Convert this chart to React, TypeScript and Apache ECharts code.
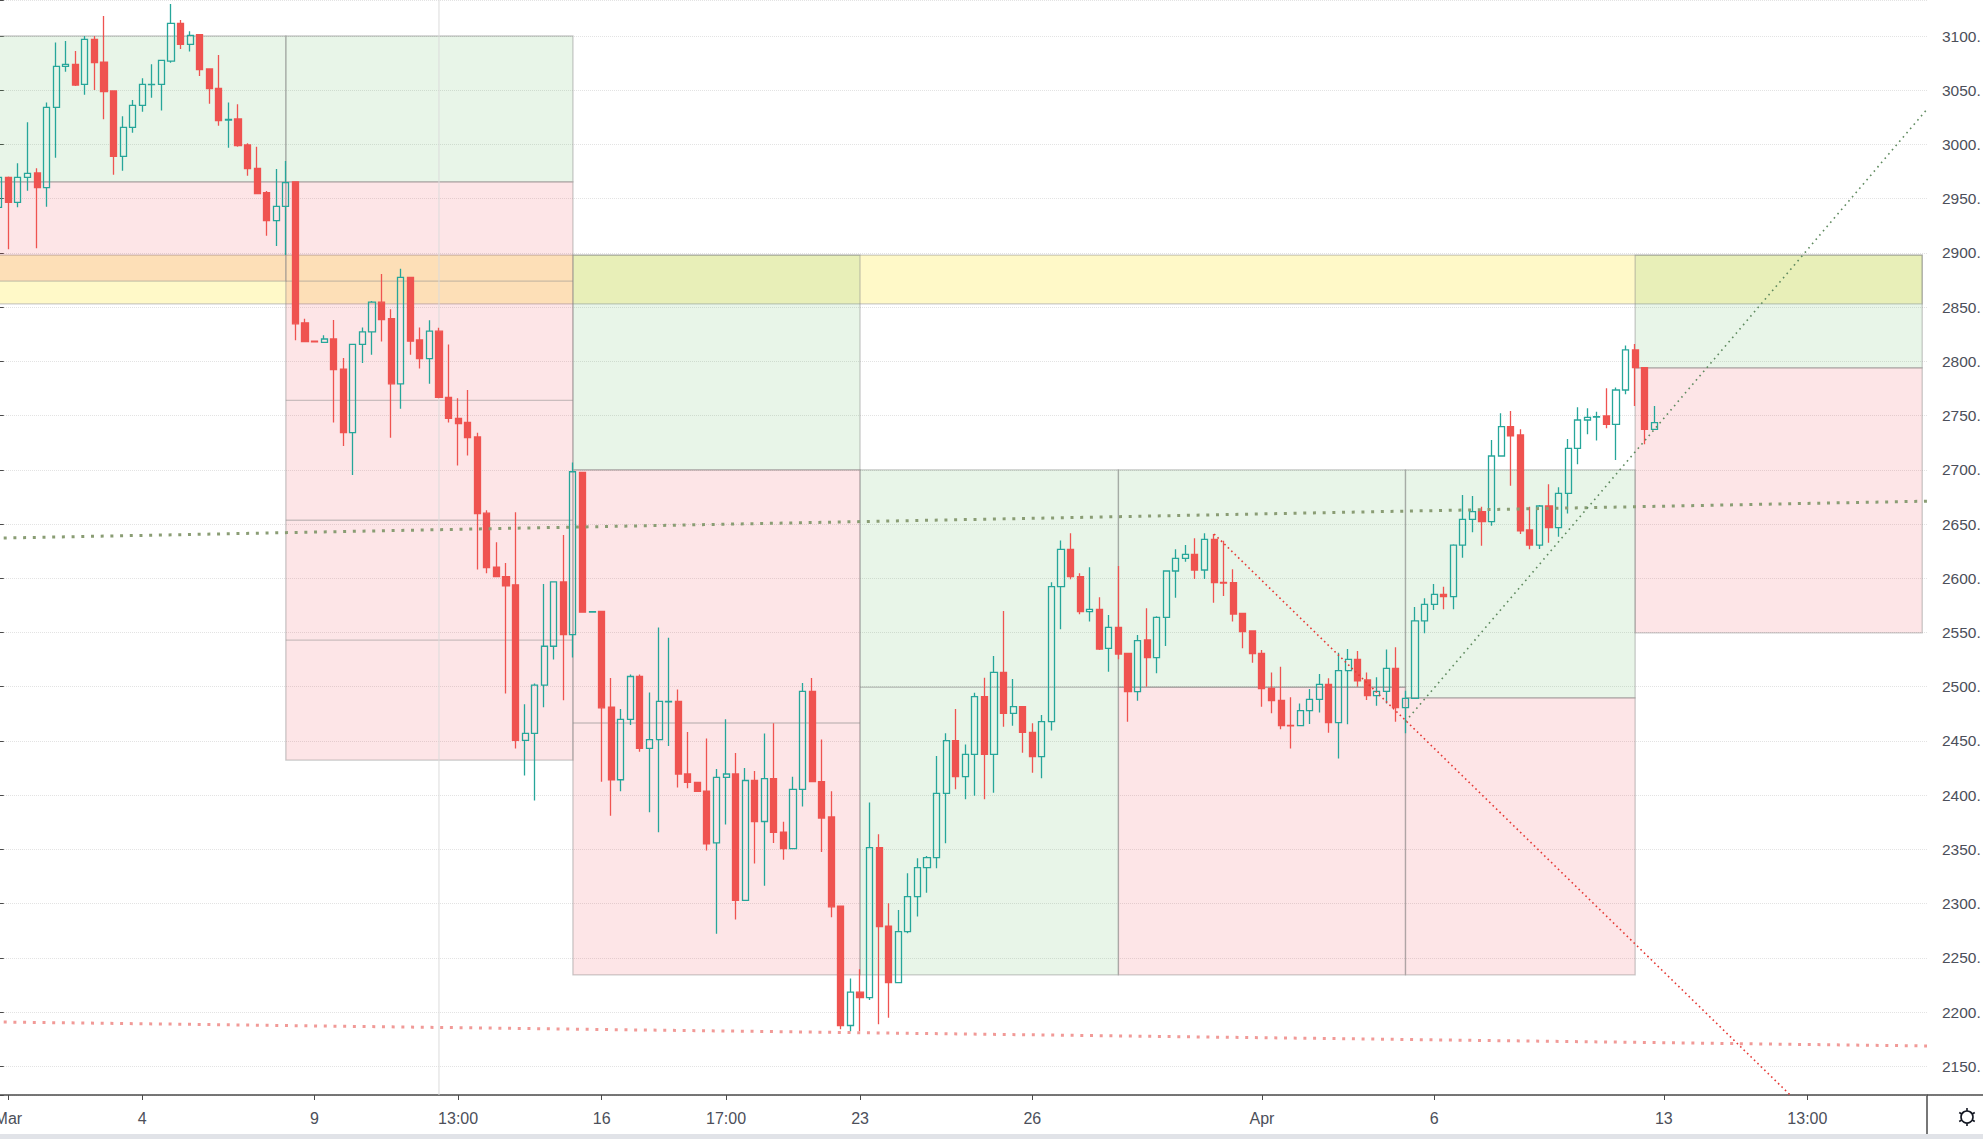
import React, { useEffect, useRef } from "react";
import * as echarts from "echarts";

// [open, close, low, high] per bar
const candles: number[][] = [
  [2942.0, 2969.7, 2935.0, 2972.0], [2969.7, 2946.6, 2903.3, 2970.5], [2946.6, 2969.7, 2942.0, 2982.6], [2969.7, 2973.4, 2957.4, 3020.4],
  [2973.7, 2960.2, 2904.2, 2978.0], [2960.2, 3034.2, 2942.6, 3038.8], [3034.2, 3072.0, 2987.8, 3093.9], [3072.0, 3073.9, 3067.1, 3095.4],
  [3073.9, 3054.8, 3053.9, 3086.2], [3055.4, 3096.9, 3045.9, 3100.0], [3096.9, 3075.4, 3050.2, 3100.0], [3076.0, 3048.7, 3023.2, 3118.4],
  [3049.3, 2989.0, 2972.1, 3049.3], [2989.0, 3015.8, 2975.8, 3025.9], [3015.8, 3036.1, 3010.9, 3041.0], [3036.1, 3055.4, 3030.2, 3061.0],
  [3055.1, 3055.4, 3043.1, 3073.9], [3055.4, 3077.6, 3031.2, 3077.6], [3076.9, 3111.7, 3075.4, 3129.5], [3111.7, 3092.3, 3088.0, 3114.8],
  [3092.3, 3100.6, 3085.6, 3104.3], [3101.2, 3069.0, 3063.1, 3101.8], [3069.6, 3051.4, 3037.6, 3070.2], [3051.8, 3021.9, 3017.3, 3082.5],
  [3022.5, 3023.2, 2997.0, 3038.8], [3023.5, 2998.9, 2997.9, 3037.0], [2999.5, 2977.7, 2971.2, 3001.0], [2978.0, 2954.6, 2954.3, 2997.9],
  [2955.5, 2929.7, 2915.9, 2957.1], [2929.7, 2942.9, 2906.4, 2977.4], [2942.9, 2964.8, 2898.1, 2984.7], [2965.5, 2834.6, 2819.4, 2966.0],
  [2835.5, 2818.3, 2817.5, 2839.3], [2818.6, 2817.9, 2817.5, 2818.8], [2817.5, 2820.6, 2817.5, 2824.0], [2820.6, 2792.3, 2743.7, 2838.1],
  [2792.7, 2734.2, 2721.9, 2803.0], [2734.2, 2815.6, 2695.2, 2815.6], [2815.6, 2827.1, 2798.4, 2831.3], [2827.1, 2854.6, 2806.0, 2855.7],
  [2854.6, 2838.5, 2818.3, 2880.6], [2839.3, 2779.3, 2729.6, 2848.1], [2779.3, 2877.5, 2756.3, 2885.5], [2877.5, 2818.6, 2806.0, 2877.5],
  [2819.8, 2802.6, 2793.4, 2831.3], [2802.6, 2827.8, 2779.3, 2837.8], [2827.8, 2766.7, 2765.9, 2830.9], [2766.7, 2747.5, 2743.7, 2815.6],
  [2747.5, 2742.6, 2704.0, 2765.9], [2743.7, 2729.6, 2713.1, 2773.6], [2730.3, 2659.6, 2608.0, 2734.2], [2660.0, 2609.9, 2604.6, 2662.7],
  [2610.3, 2601.5, 2601.5, 2633.3], [2601.5, 2593.1, 2493.7, 2614.1], [2593.9, 2450.5, 2442.9, 2660.8], [2450.5, 2457.0, 2418.0, 2483.8],
  [2457.0, 2501.4, 2395.1, 2502.9], [2501.4, 2537.3, 2481.1, 2594.6], [2537.3, 2596.6, 2525.1, 2596.6], [2596.6, 2548.0, 2487.6, 2639.8],
  [2548.0, 2698.2, 2527.0, 2706.7], [2697.5, 2568.7, 2568.7, 2697.5], [2568.7, 2569.1, 2568.3, 2569.5], [2569.4, 2480.5, 2412.4, 2569.4],
  [2481.2, 2414.2, 2381.0, 2508.0], [2414.2, 2469.9, 2403.6, 2479.4], [2469.9, 2509.4, 2464.6, 2511.2], [2509.4, 2443.1, 2439.9, 2511.2],
  [2443.1, 2451.2, 2384.2, 2494.6], [2451.2, 2486.5, 2365.8, 2554.6], [2486.1, 2486.5, 2445.2, 2545.1], [2486.5, 2419.5, 2407.1, 2497.4],
  [2419.5, 2411.7, 2406.4, 2458.3], [2411.7, 2403.6, 2403.6, 2411.7], [2403.6, 2355.2, 2348.9, 2452.3], [2355.9, 2416.3, 2272.3, 2424.0],
  [2416.3, 2419.5, 2372.9, 2469.9], [2419.5, 2303.0, 2285.4, 2438.9], [2303.0, 2413.5, 2303.0, 2425.1], [2413.5, 2375.7, 2336.9, 2422.3],
  [2375.7, 2415.2, 2316.4, 2456.9], [2415.2, 2365.8, 2355.9, 2466.4], [2365.8, 2350.7, 2340.4, 2375.4], [2350.7, 2405.3, 2350.7, 2417.0],
  [2405.3, 2495.7, 2389.5, 2503.4], [2495.7, 2412.4, 2412.4, 2508.0], [2412.4, 2378.9, 2347.5, 2451.2], [2379.9, 2297.0, 2287.5, 2403.6],
  [2297.7, 2187.6, 2184.1, 2297.7], [2187.6, 2218.3, 2182.3, 2231.0], [2218.3, 2213.4, 2182.3, 2239.5], [2213.3, 2351.6, 2211.1, 2393.1],
  [2351.6, 2278.7, 2188.7, 2363.9], [2279.3, 2227.1, 2194.8, 2300.2], [2227.1, 2274.1, 2227.1, 2294.1], [2274.1, 2306.4, 2272.6, 2327.9],
  [2306.4, 2333.1, 2288.0, 2341.7], [2333.1, 2342.3, 2310.1, 2343.9], [2342.3, 2401.7, 2332.5, 2436.1], [2401.7, 2450.2, 2355.6, 2457.0],
  [2450.2, 2417.0, 2405.4, 2479.4], [2417.0, 2437.6, 2396.1, 2446.8], [2437.6, 2490.8, 2399.5, 2494.5], [2490.8, 2437.6, 2396.1, 2508.3],
  [2437.6, 2513.2, 2402.3, 2528.3], [2513.2, 2475.4, 2463.1, 2569.8], [2475.4, 2481.6, 2464.1, 2507.1], [2481.6, 2457.9, 2439.2, 2481.6],
  [2457.9, 2435.5, 2420.7, 2466.2], [2435.5, 2467.7, 2415.5, 2473.9], [2467.7, 2592.2, 2459.5, 2596.2], [2592.2, 2626.7, 2552.9, 2634.7],
  [2626.7, 2601.5, 2599.0, 2641.4], [2601.5, 2569.2, 2566.7, 2604.5], [2569.2, 2571.3, 2560.0, 2610.1], [2571.3, 2534.7, 2533.8, 2582.4],
  [2535.4, 2554.7, 2513.8, 2566.1], [2554.7, 2530.1, 2525.2, 2611.3], [2530.8, 2495.4, 2467.7, 2530.8], [2495.4, 2542.4, 2487.1, 2547.7],
  [2543.1, 2526.8, 2500.0, 2572.3], [2526.8, 2563.9, 2512.3, 2564.9], [2563.9, 2606.7, 2537.5, 2606.7], [2606.7, 2618.4, 2582.1, 2626.7],
  [2618.4, 2622.0, 2615.3, 2630.6], [2622.0, 2607.6, 2599.3, 2636.8], [2607.6, 2635.9, 2599.3, 2641.4], [2635.9, 2595.9, 2577.5, 2640.8],
  [2596.2, 2595.6, 2583.6, 2634.6], [2595.9, 2567.0, 2560.0, 2608.2], [2567.6, 2550.7, 2535.4, 2567.6], [2551.4, 2530.4, 2522.1, 2551.4],
  [2530.8, 2498.2, 2481.6, 2533.8], [2498.5, 2487.1, 2475.4, 2513.2], [2487.4, 2464.1, 2460.7, 2518.5], [2464.4, 2463.8, 2442.9, 2490.2],
  [2464.1, 2477.9, 2464.1, 2484.6], [2477.9, 2488.3, 2465.6, 2497.9], [2488.3, 2502.2, 2476.1, 2511.7], [2502.2, 2466.8, 2457.6, 2507.7],
  [2466.8, 2514.8, 2433.9, 2531.4], [2514.8, 2525.2, 2465.3, 2534.7], [2525.2, 2505.5, 2500.0, 2532.9], [2506.2, 2491.7, 2487.7, 2513.2],
  [2491.7, 2495.7, 2482.5, 2508.6], [2495.7, 2516.9, 2484.6, 2534.4], [2516.9, 2480.7, 2467.7, 2536.3], [2480.7, 2489.3, 2457.0, 2496.3],
  [2489.3, 2560.6, 2489.3, 2573.5], [2560.6, 2575.9, 2549.2, 2581.5], [2575.9, 2585.2, 2570.7, 2594.7], [2585.2, 2583.0, 2571.3, 2592.2],
  [2583.0, 2630.6, 2571.3, 2631.3], [2630.6, 2654.3, 2619.0, 2676.8], [2654.3, 2661.4, 2642.3, 2675.8], [2661.4, 2652.2, 2630.0, 2666.0],
  [2652.2, 2712.7, 2648.5, 2727.5], [2712.7, 2739.8, 2712.1, 2752.1], [2739.8, 2731.2, 2685.4, 2754.2], [2732.1, 2643.6, 2640.8, 2737.3],
  [2644.5, 2630.6, 2626.7, 2666.0], [2630.6, 2666.6, 2627.0, 2667.5], [2666.6, 2646.6, 2632.8, 2686.6], [2646.6, 2678.3, 2638.3, 2683.8],
  [2678.3, 2719.8, 2659.8, 2728.4], [2719.8, 2745.9, 2705.0, 2757.6], [2745.9, 2748.4, 2732.7, 2756.7], [2748.7, 2749.0, 2726.9, 2753.6],
  [2749.6, 2741.9, 2738.2, 2775.1], [2741.9, 2773.6, 2709.0, 2776.0], [2773.6, 2810.5, 2769.6, 2814.5], [2810.5, 2794.2, 2758.8, 2816.0],
  [2794.2, 2737.3, 2723.5, 2794.2], [2737.3, 2743.5, 2736.7, 2758.8],
];

const barCount = 202;
const tickBars = [1, 15, 33, 48, 63, 76, 90, 108, 132, 150, 174, 189];
const tickTexts = ["Mar", "4", "9", "13:00", "16", "17:00", "23", "26", "Apr", "6", "13", "13:00"];

const priceMin = 2123.5;
const priceMax = 3133.2;

// [fromBar, toBar, top, bottom]
const yellowBands = [[-3, 201, 2898, 2853]];
const greenBoxes = [
  [-3, 30, 3100, 2965.5], [30, 60, 3100, 2965.5], [60, 90, 2898, 2700], [90, 117, 2700, 2234.2],
  [117, 147, 2700, 2499.5], [147, 171, 2700, 2489.7], [171, 201, 2898, 2794],
];
const redBoxes = [
  [-3, 30, 2965.5, 2874], [30, 60, 2965.5, 2432.3], [60, 90, 2700, 2234.2],
  [117, 147, 2499.5, 2234.2], [147, 171, 2489.7, 2234.2], [171, 201, 2794, 2549.7],
];
// [fromBar, toBar, price]
const boxLines = [
  [30, 60, 2874], [30, 60, 2764], [30, 60, 2653.5], [30, 60, 2543], [60, 90, 2466.5], [90, 117, 2499.5],
];
const levelGreen = [[-0.5, 2636.9], [201.5, 2671.1]];
const levelRed = [[-0.5, 2190.9], [201.5, 2168.7]];
const trendDown = [[127, 2640.8], [195, 2056.5]];
const trendUp = [[147, 2467.8], [201.5, 3032.5]];
const crosshair = [[46, priceMin], [46, priceMax]];

const labelFont = "Liberation Sans, Arial, sans-serif";
const axisColor = "#4a4a4a";
const textColor = "#4c4f5a";

const categories = Array.from({ length: barCount }, (_, i) => String(i));
const labelFor = (i: number) => {
  const p = tickBars.indexOf(i);
  return p >= 0 ? tickTexts[p] : "";
};

function rectSeries(data: number[][], fill: string, z: number) {
  return {
    type: "custom",
    xAxisIndex: 1,
    yAxisIndex: 0,
    z,
    silent: true,
    clip: true,
    data,
    renderItem: (_p: any, api: any) => {
      const a = api.coord([api.value(0), api.value(2)]);
      const b = api.coord([api.value(1), api.value(3)]);
      return {
        type: "rect",
        shape: { x: a[0], y: a[1], width: b[0] - a[0], height: b[1] - a[1] },
        style: { fill, stroke: "rgba(140,140,140,0.45)", lineWidth: 1.3 },
      };
    },
  };
}

function lineSeries(data: number[][], color: string, width: number, dash: number[], z: number) {
  return {
    type: "line",
    xAxisIndex: 1,
    yAxisIndex: 0,
    z,
    silent: true,
    clip: true,
    data,
    showSymbol: false,
    symbol: "none",
    lineStyle: { color, width, type: dash },
  };
}

const gearX = 1973;
const gearY = 1117;
const gearRays = [0, 60, 120, 180, 240, 300].map((deg) => {
  const r = (deg * Math.PI) / 180;
  return {
    type: "line",
    shape: { x1: gearX + Math.sin(r) * 6, y1: gearY - Math.cos(r) * 6, x2: gearX + Math.sin(r) * 9, y2: gearY - Math.cos(r) * 9 },
    style: { stroke: "#131722", lineWidth: 1.6 },
  };
});

const option: any = {
  animation: false,
  backgroundColor: "#ffffff",
  grid: { left: 0, right: 56, top: 0, bottom: 44, containLabel: false, outerBoundsMode: "none" },
  xAxis: [
    {
      type: "category",
      data: categories,
      boundaryGap: true,
      axisLine: { show: true, lineStyle: { color: axisColor, width: 1.5 } },
      axisTick: {
        show: true,
        alignWithLabel: true,
        length: 5,
        interval: (i: number) => labelFor(i) !== "",
        lineStyle: { color: axisColor, width: 1 },
      },
      axisLabel: {
        interval: (i: number) => labelFor(i) !== "",
        formatter: (_v: string, i: number) => labelFor(i),
        margin: 15,
        fontSize: 16,
        fontFamily: labelFont,
        color: textColor,
        hideOverlap: false,
      },
      splitLine: { show: false },
    },
    { type: "value", min: -0.5, max: barCount - 0.5, show: false },
  ],
  yAxis: [
    {
      type: "value",
      position: "right",
      min: priceMin,
      max: priceMax,
      splitNumber: 20,
      minInterval: 50,
      maxInterval: 50,
      axisLine: { show: true, lineStyle: { color: axisColor, width: 1.5 } },
      axisTick: { show: true, length: 5, lineStyle: { color: axisColor, width: 1 } },
      axisLabel: {
        margin: 15,
        fontSize: 15.5,
        fontFamily: labelFont,
        color: textColor,
        // the price scale is cut at the picture's right edge, so only "3100." of "3100.00" shows
        formatter: (v: number) => (Math.abs(v % 50) < 0.001 ? `${v.toFixed(0)}.` : ""),
      },
      splitLine: { show: true, lineStyle: { color: "#e3e3e3", type: "dotted", width: 1 } },
    },
  ],
  series: [
    rectSeries(yellowBands, "rgba(255,235,59,0.28)", 1),
    rectSeries(greenBoxes, "rgba(76,175,80,0.13)", 2),
    rectSeries(redBoxes, "rgba(242,54,69,0.13)", 2),
    {
      type: "custom",
      xAxisIndex: 1,
      yAxisIndex: 0,
      z: 3,
      silent: true,
      clip: true,
      data: boxLines,
      renderItem: (_p: any, api: any) => {
        const a = api.coord([api.value(0), api.value(2)]);
        const b = api.coord([api.value(1), api.value(2)]);
        return {
          type: "line",
          shape: { x1: a[0], y1: a[1], x2: b[0], y2: b[1] },
          style: { stroke: "rgba(140,140,140,0.45)", lineWidth: 1.3 },
        };
      },
    },
    lineSeries(crosshair, "#dcdcdc", 1, [1, 0], 3),
    {
      type: "candlestick",
      xAxisIndex: 0,
      yAxisIndex: 0,
      z: 5,
      silent: true,
      barWidth: 6.6,
      data: candles,
      itemStyle: {
        color: "rgba(0,0,0,0)",
        color0: "#ef5350",
        borderColor: "#26a69a",
        borderColor0: "#ef5350",
        borderWidth: 1.3,
      },
      emphasis: { disabled: true },
    },
    lineSeries(levelGreen, "#8a9d74", 3, [3, 6.7], 6),
    lineSeries(levelRed, "#f19a97", 3, [3, 6.7], 6),
    lineSeries(trendDown, "#e53935", 1.6, [1.6, 3.2], 6),
    lineSeries(trendUp, "#5f8a5f", 1.6, [1.6, 4], 6),
  ],
  graphic: [
    { type: "line", shape: { x1: 1933, y1: 1095, x2: 1995, y2: 1095 }, style: { stroke: axisColor, lineWidth: 1.5 } },
    { type: "line", shape: { x1: 1933, y1: 1095, x2: 1933, y2: 1139 }, style: { stroke: axisColor, lineWidth: 1.5 } },
    { type: "rect", shape: { x: 0, y: 1134, width: 1995, height: 6 }, style: { fill: "#e1e3e8" } },
    { type: "circle", shape: { cx: gearX, cy: gearY, r: 6 }, style: { fill: "none", stroke: "#131722", lineWidth: 1.6 } },
    ...gearRays,
  ],
};

export default function App() {
  const ref = useRef<HTMLDivElement>(null);
  useEffect(() => {
    const chart = echarts.init(ref.current!, null, { renderer: "svg" });
    chart.setOption(option);
    return () => chart.dispose();
  }, []);
  return (
    <div style={{ position: "fixed", left: 0, top: 0, width: 1983, height: 1139, overflow: "hidden", background: "#fff" }}>
      <div ref={ref} style={{ position: "absolute", left: -6, top: 0, width: 1989, height: 1139 }} />
    </div>
  );
}
